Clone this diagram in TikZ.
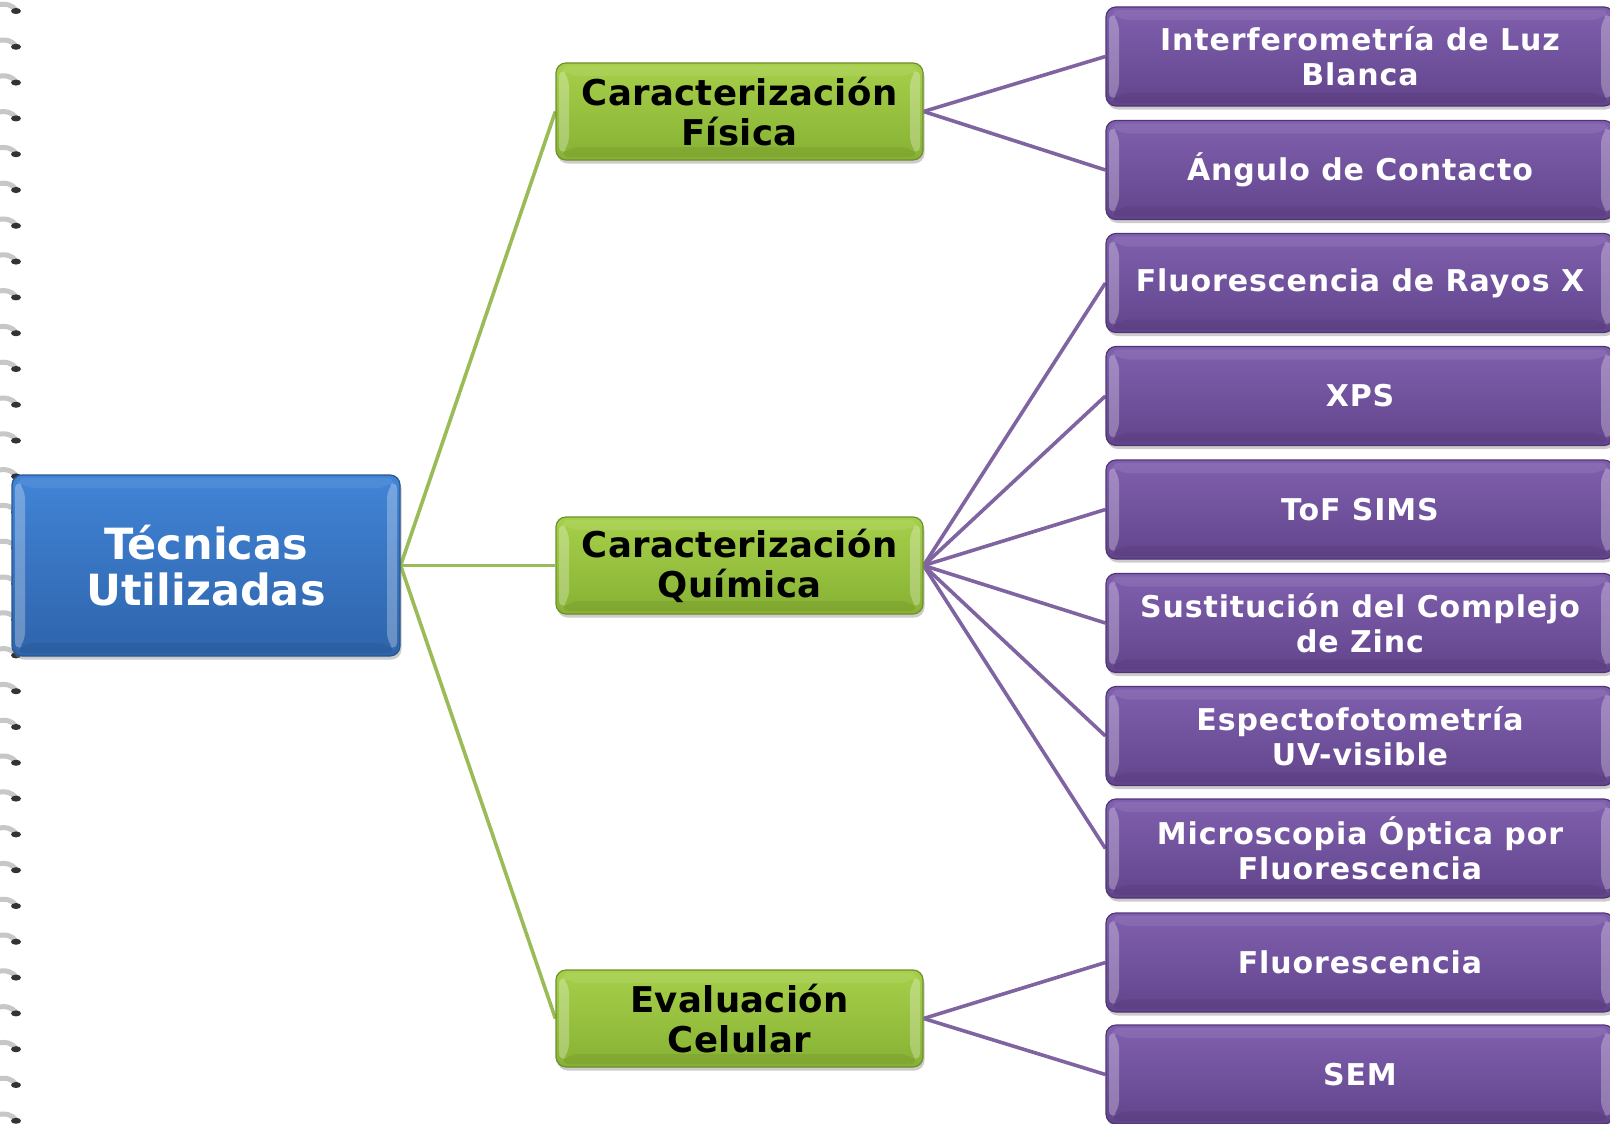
\documentclass[tikz,border=0pt]{standalone}
\usepackage{fontspec}
\setmainfont{DejaVu Sans}
\newfontfamily\pfont[LetterSpace=3]{DejaVu Sans}
\newfontfamily\gfont[LetterSpace=1]{DejaVu Sans}
\usetikzlibrary{shadows,shadings}
\pgfdeclarelayer{paper}
\pgfdeclarelayer{bg}
\pgfsetlayers{paper,bg,main}
\definecolor{bluetop}{HTML}{4184D6}
\definecolor{bluebot}{HTML}{2E64AB}
\definecolor{blueedge}{HTML}{28568F}
\definecolor{greentop}{HTML}{A6D04A}
\definecolor{greenbot}{HTML}{87B133}
\definecolor{greenedge}{HTML}{6E8F2E}
\definecolor{purtop}{HTML}{8060AE}
\definecolor{purbot}{HTML}{62448C}
\definecolor{puredge}{HTML}{4F3673}
\definecolor{gline}{HTML}{9BBB59}
\definecolor{pline}{HTML}{8064A2}
\tikzset{
  bevel/.style={path picture={
    \fill[white,opacity=0.28] ([shift={(3pt,-4pt)}]path picture bounding box.north west) -- ([shift={(13pt,-13pt)}]path picture bounding box.north west) -- ([shift={(13pt,13pt)}]path picture bounding box.south west) -- ([shift={(3pt,4pt)}]path picture bounding box.south west) -- cycle;
    \fill[white,opacity=0.28] ([shift={(-3pt,-4pt)}]path picture bounding box.north east) -- ([shift={(-13pt,-13pt)}]path picture bounding box.north east) -- ([shift={(-13pt,13pt)}]path picture bounding box.south east) -- ([shift={(-3pt,4pt)}]path picture bounding box.south east) -- cycle;
    \fill[white,opacity=0.08] ([shift={(3pt,-3pt)}]path picture bounding box.north west) -- ([shift={(-3pt,-3pt)}]path picture bounding box.north east) -- ([shift={(-13pt,-13pt)}]path picture bounding box.north east) -- ([shift={(13pt,-13pt)}]path picture bounding box.north west) -- cycle;
    \fill[black,opacity=0.06] ([shift={(3pt,3pt)}]path picture bounding box.south west) -- ([shift={(-3pt,3pt)}]path picture bounding box.south east) -- ([shift={(-13pt,13pt)}]path picture bounding box.south east) -- ([shift={(13pt,13pt)}]path picture bounding box.south west) -- cycle;
  }},
  boxbase/.style={rounded corners=10pt, line width=1.2pt, align=center, inner sep=0pt, bevel,
    drop shadow={opacity=0.4, shadow xshift=1.5pt, shadow yshift=-3.5pt}},
  bluebox/.style={boxbase, draw=blueedge, top color=bluetop, bottom color=bluebot,
    minimum width=388pt, minimum height=181pt, text=white,
    font=\fontsize{43}{46}\selectfont\bfseries},
  greenbox/.style={boxbase, draw=greenedge, top color=greentop, bottom color=greenbot,
    minimum width=367pt, minimum height=97pt, text=black,
    font=\gfont\fontsize{35.5}{40}\selectfont\bfseries},
  purbox/.style={boxbase, draw=puredge, top color=purtop, bottom color=purbot,
    minimum width=508pt, minimum height=99pt, text=white,
    font=\pfont\fontsize{30}{35}\selectfont\bfseries},
  glink/.style={draw=gline, line width=3.6pt},
  plink/.style={draw=pline, line width=3.6pt},
  ring/.style={line width=5pt, black!22, line cap=round}
}
\begin{document}
\begin{tikzpicture}[x=1pt,y=-1pt]
\useasboundingbox (0,0) rectangle (1610,1124);
\clip (0,0) rectangle (1610,1124);
\begin{pgfonlayer}{paper}
\fill[white] (0,0) rectangle (1610,1124);
% spiral binding
\foreach \k in {0,...,31}{
  \pgfmathsetmacro{\yy}{8+35.8*\k}
  \draw[ring] (-3,\yy-3) .. controls (6,\yy-5) and (12,\yy-3) .. (16,\yy+2);
  \fill[black!80] (16,\yy+3) ellipse [x radius=5pt, y radius=3pt];
}
\end{pgfonlayer}
% nodes
\node[bluebox] (root) at (206,565.5) {Técnicas\\Utilizadas};
\node[greenbox] (fis) at (739.5,111.5) {Caracterización\\Física};
\node[greenbox] (qui) at (739.5,565.5) {Caracterización\\Química};
\node[greenbox] (cel) at (739.5,1018.5) {Evaluación\\Celular};
\node[purbox] (p1) at (1360,56.5) {Interferometría de Luz\\Blanca};
\node[purbox] (p2) at (1360,170) {Ángulo de Contacto};
\node[purbox] (p3) at (1360,283) {Fluorescencia de Rayos X};
\node[purbox] (p4) at (1360,396) {XPS};
\node[purbox] (p5) at (1360,509.5) {ToF SIMS};
\node[purbox] (p6) at (1360,623) {Sustitución del Complejo\\de Zinc};
\node[purbox] (p7) at (1360,736) {Espectofotometría\\UV-visible};
\node[purbox] (p8) at (1360,848.5) {Microscopia Óptica por\\Fluorescencia};
\node[purbox] (p9) at (1360,962.5) {Fluorescencia};
\node[purbox] (p10) at (1360,1074.5) {SEM};
% connectors
\begin{pgfonlayer}{bg}
\draw[glink] (root.east) -- (fis.west);
\draw[glink] (root.east) -- (qui.west);
\draw[glink] (root.east) -- (cel.west);
\draw[plink] (fis.east) -- (p1.west);
\draw[plink] (fis.east) -- (p2.west);
\foreach \p in {p3,p4,p5,p6,p7,p8}{
  \draw[plink] (qui.east) -- (\p.west);
}
\draw[plink] (cel.east) -- (p9.west);
\draw[plink] (cel.east) -- (p10.west);
\end{pgfonlayer}
\end{tikzpicture}
\end{document}
